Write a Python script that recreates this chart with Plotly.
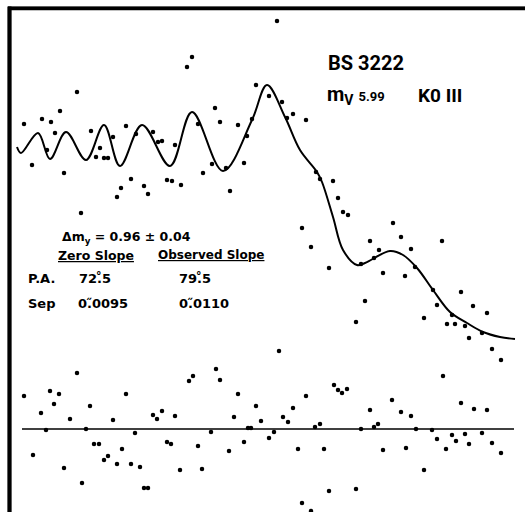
import plotly.graph_objects as go

# Fitted model curve (upper panel)
curve_x = [17, 21, 38, 50, 66, 86, 104, 120, 142, 170, 192, 223, 252, 267, 285, 300, 317, 322, 333, 343, 357, 365, 390, 403, 417, 433, 450, 467, 483, 500, 515]
curve_y = [147, 153, 133, 159, 132, 160, 125, 166, 125, 166, 112, 171, 120, 85, 117, 150, 172, 182, 217, 250, 265, 263, 251, 255, 268, 290, 312, 323, 332, 337, 339]

# Observed points (upper panel)
obs_x = [24, 32, 42, 47, 51, 55, 60, 64, 77, 81, 91, 96, 100, 104, 108, 113, 117, 121, 126, 131, 136, 144, 148,
         153, 158, 162, 167, 172, 175, 181, 187, 192, 198, 203, 212, 215, 220, 226, 230, 238, 244, 247, 252, 256,
         277, 269, 282, 287, 293, 306, 316, 320, 333, 338, 343, 348, 302, 311, 393, 401, 370, 379, 411, 442,
         329, 361, 374, 383, 405, 415, 433, 437, 424, 461, 473, 487, 447, 455, 452, 465, 469, 482, 492, 501,
         443, 365, 356]
obs_y = [124, 165, 119, 150, 122, 133, 111, 173, 92, 213, 131, 157, 148, 158, 158, 137, 197, 188, 126, 179, 134, 186, 194,
         132, 142, 141, 180, 181, 145, 185, 67, 57, 124, 173, 164, 108, 122, 168, 191, 125, 163, 136, 119, 85,
         21, 96, 102, 118, 114, 120, 172, 179, 181, 198, 212, 215, 228, 247, 223, 237, 241, 250, 249, 241,
         268, 264, 258, 273, 276, 267, 290, 305, 318, 292, 306, 313, 324, 324, 315, 326, 338, 333, 349, 360,
         376, 301, 322]

# Residuals (lower panel)
res_x = [24, 33, 41, 46, 50, 54, 59, 64, 70, 77, 82, 86, 90, 94, 99, 104, 108, 113, 117, 122, 126, 131, 135, 140,
         144, 148, 153, 157, 162, 167, 171, 175, 180, 189, 193, 198, 202, 211, 216, 220, 229, 234, 238, 244,
         248, 251, 256, 261, 269, 274, 279, 283, 288, 293, 298, 306, 315, 320, 324, 329, 334, 338, 342, 347,
         302, 311, 356, 361, 370, 374, 378, 383, 392, 401, 406, 411, 416, 424, 432, 437, 446, 452, 456, 461,
         465, 469, 474, 482, 487, 492, 501]
res_y = [396, 455, 413, 430, 391, 404, 394, 468, 419, 373, 483, 429, 406, 444, 444, 460, 456, 420, 464, 449, 394, 464, 433, 467,
         488, 488, 415, 419, 411, 442, 444, 416, 470, 381, 376, 446, 469, 432, 369, 380, 451, 417, 394, 442,
         428, 428, 406, 421, 438, 432, 351, 417, 422, 408, 449, 396, 427, 424, 449, 491, 385, 390, 393, 389,
         503, 511, 489, 429, 410, 427, 424, 450, 400, 412, 448, 416, 429, 470, 430, 439, 449, 435, 441, 403,
         434, 444, 409, 433, 410, 443, 453]

ZERO_LEVEL = 429
zero_x = [22, 514]

# Frame edges (top and left only)
frame_x = [525, 9.5, 9.5]
frame_y = [8.5, 8.5, 512]

fig = go.Figure()

fig.add_trace(go.Scatter(x=frame_x, y=frame_y, mode="lines",
                         line=dict(color="black", width=3.5), hoverinfo="skip", showlegend=False,
                         cliponaxis=False))
fig.add_trace(go.Scatter(x=curve_x, y=curve_y, mode="lines",
                         line=dict(color="black", width=2, shape="spline", smoothing=1.0),
                         hoverinfo="skip", showlegend=False))
fig.add_trace(go.Scatter(x=zero_x, y=[ZERO_LEVEL, ZERO_LEVEL], mode="lines",
                         line=dict(color="black", width=1.6), hoverinfo="skip", showlegend=False))
fig.add_trace(go.Scatter(x=obs_x, y=obs_y, mode="markers",
                         marker=dict(color="black", size=4.5), showlegend=False))
fig.add_trace(go.Scatter(x=res_x, y=res_y, mode="markers",
                         marker=dict(color="black", size=4.5), showlegend=False))

# Backup frame as shapes
fig.add_shape(type="rect", xref="x", yref="y", x0=8, x1=525, y0=6.5, y1=10,
              fillcolor="black", line=dict(width=0), layer="above")
fig.add_shape(type="rect", xref="x", yref="y", x0=7.5, x1=11.5, y0=6.5, y1=512,
              fillcolor="black", line=dict(width=0), layer="above")

RF = "Roboto"
LF = "DejaVu Sans"

def ann(x, y, text, size, family, anchor="left"):
    fig.add_annotation(x=x, y=y, xref="x", yref="y", text=text, showarrow=False,
                       xanchor=anchor, yanchor="middle",
                       font=dict(family=family, size=size, color="black"))

ann(326, 63, "<b>BS 3222</b>", 20, RF)
ann(325, 95, "<b>m<sub>V</sub> <span style='font-size:13px'>5.99</span></b>", 20, RF)
ann(416, 95, "<b>K0 III</b>", 19, RF)

ann(60, 237, "<b>Δm<sub>y</sub> = 0.96 ± 0.04</b>", 12.5, LF)
ann(56, 255, "<b><u>Zero Slope</u></b>", 12.5, LF)
ann(156, 255, "<b><u>Observed Slope</u></b>", 12, LF)
ann(26, 278, "<b>P.A.</b>", 13, LF)
ann(77, 278, "<b>72.\u030a5</b>", 13, LF)
ann(177, 278, "<b>79.\u030a5</b>", 13, LF)
ann(26, 303, "<b>Sep</b>", 13, LF)
ann(76, 303, "<b>0.\u030b0095</b>", 13, LF)
ann(177, 303, "<b>0.\u030b0110</b>", 13, LF)

fig.update_layout(
    width=525, height=512,
    margin=dict(l=0, r=0, t=0, b=0),
    paper_bgcolor="white", plot_bgcolor="white",
    xaxis=dict(range=[0, 525], visible=False, fixedrange=True),
    yaxis=dict(range=[512, 0], visible=False, fixedrange=True),
    showlegend=False,
)

fig.write_html("out.html", config={"displayModeBar": False},
               post_script="document.body.style.margin='0';document.body.style.overflow='hidden';")
